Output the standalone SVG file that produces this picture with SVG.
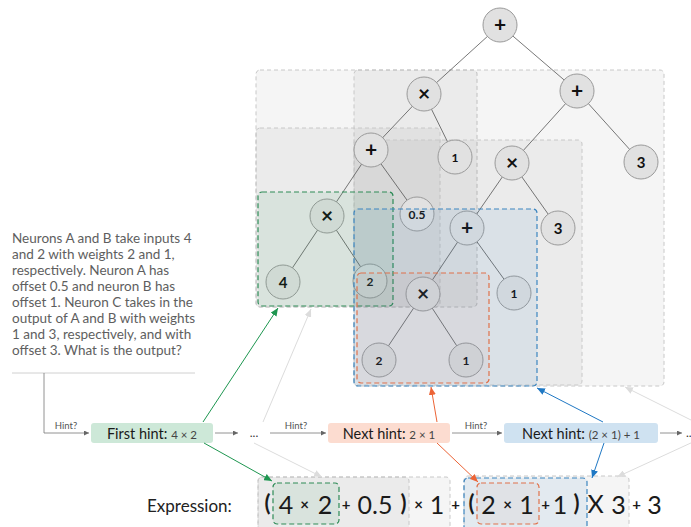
<svg xmlns="http://www.w3.org/2000/svg" width="691" height="527" viewBox="0 0 691 527">
<defs>
<style>
.g{fill:#000;fill-opacity:0.04;stroke:#c8c8c8;stroke-width:1;stroke-dasharray:4 3}
.gr{fill:#2e9a5c;fill-opacity:0.09;stroke:#2e8b57;stroke-width:1.2;stroke-dasharray:5 3}
.bl{fill:#3a86c8;fill-opacity:0.09;stroke:#3d86c0;stroke-width:1.2;stroke-dasharray:5 3}
.or{fill:#c06a50;fill-opacity:0.06;stroke:#e0714a;stroke-width:1.2;stroke-dasharray:5 3}
.e{stroke:#555;stroke-width:0.8;fill:none}
.n circle{fill:#e1e1e1;stroke:#9a9a9a;stroke-width:1}
.n text{font-family:Lato,"Open Sans",sans-serif;fill:#111;text-anchor:middle;font-weight:bold}
.op{font-size:21px}
.d{font-size:12px}
.D{font-size:15px}
.t{font-family:Lato,"Open Sans",sans-serif}
.hint{font-family:Lato,"Open Sans",sans-serif;font-size:9.5px;fill:#555;text-anchor:middle}
.ar{stroke:#777;stroke-width:0.8;fill:none}
.ex{font-family:Lato,"Open Sans",sans-serif;fill:#1a1a1a;text-anchor:middle;font-size:25px}
.ex2{font-family:Lato,"Open Sans",sans-serif;fill:#1a1a1a;text-anchor:middle;font-size:15px;font-weight:bold}
.par{font-family:Lato,"Open Sans",sans-serif;fill:#1a1a1a;text-anchor:middle;font-size:22px;font-weight:bold}
</style>
<marker id="ms" viewBox="0 0 5 5" refX="5" refY="2.5" markerWidth="5" markerHeight="5" markerUnits="userSpaceOnUse" orient="auto"><path d="M0,0 L5,2.5 L0,5 z" fill="#666"/></marker>
<marker id="mg" viewBox="0 0 8 7" refX="8" refY="3.5" markerWidth="8" markerHeight="7" markerUnits="userSpaceOnUse" orient="auto"><path d="M0,0 L8,3.5 L0,7 z" fill="#1e9650"/></marker>
<marker id="mo" viewBox="0 0 8 7" refX="8" refY="3.5" markerWidth="8" markerHeight="7" markerUnits="userSpaceOnUse" orient="auto"><path d="M0,0 L8,3.5 L0,7 z" fill="#ec6436"/></marker>
<marker id="mb" viewBox="0 0 8 7" refX="8" refY="3.5" markerWidth="8" markerHeight="7" markerUnits="userSpaceOnUse" orient="auto"><path d="M0,0 L8,3.5 L0,7 z" fill="#1f78c4"/></marker>
<marker id="ml" viewBox="0 0 8 7" refX="8" refY="3.5" markerWidth="8" markerHeight="7" markerUnits="userSpaceOnUse" orient="auto"><path d="M0,0 L8,3.5 L0,7 z" fill="#dcdcdc"/></marker>
</defs>

<g id="tree-regions">
<rect class="g" x="256" y="70" width="221" height="237" rx="4"/>
<rect class="g" x="354" y="70" width="310" height="316" rx="4"/>
<rect class="g" x="256" y="128" width="184" height="179" rx="4"/>
<rect class="g" x="354" y="140" width="228" height="245" rx="4"/>
</g>

<g id="tree-edges">
<line class="e" x1="500" y1="25" x2="424" y2="94"/>
<line class="e" x1="500" y1="25" x2="577" y2="91"/>
<line class="e" x1="424" y1="94" x2="371" y2="150"/>
<line class="e" x1="424" y1="94" x2="455" y2="157"/>
<line class="e" x1="577" y1="91" x2="512" y2="163"/>
<line class="e" x1="577" y1="91" x2="641" y2="162"/>
<line class="e" x1="371" y1="150" x2="327" y2="216"/>
<line class="e" x1="371" y1="150" x2="417" y2="214"/>
<line class="e" x1="512" y1="163" x2="467" y2="228"/>
<line class="e" x1="512" y1="163" x2="558" y2="228"/>
<line class="e" x1="327" y1="216" x2="283" y2="282"/>
<line class="e" x1="327" y1="216" x2="370" y2="281"/>
<line class="e" x1="467" y1="228" x2="423" y2="294"/>
<line class="e" x1="467" y1="228" x2="514" y2="293"/>
<line class="e" x1="423" y1="294" x2="379" y2="360"/>
<line class="e" x1="423" y1="294" x2="466" y2="360"/>
</g>

<g id="node-root" class="n"><circle cx="500" cy="25" r="17"/><text class="op" x="500" y="32">+</text></g>
<g id="node-mul1" class="n"><circle cx="424" cy="94" r="17"/><text class="op" x="424" y="101">×</text></g>
<g id="node-add2" class="n"><circle cx="577" cy="91" r="17"/><text class="op" x="577" y="98">+</text></g>
<g id="node-add3" class="n"><circle cx="371" cy="150" r="17"/><text class="op" x="371" y="157">+</text></g>
<g id="node-one1" class="n"><circle cx="455" cy="157" r="17"/><text class="d" x="455" y="161.5">1</text></g>
<g id="node-mul2" class="n"><circle cx="512" cy="163" r="17"/><text class="op" x="512" y="170">×</text></g>
<g id="node-three1" class="n"><circle cx="641" cy="162" r="17"/><text class="D" x="641" y="167.5">3</text></g>
<g id="node-mul3" class="n"><circle cx="327" cy="216" r="17"/><text class="op" x="327" y="223">×</text></g>
<g id="node-half" class="n"><circle cx="417" cy="214" r="17"/><text class="d" x="417" y="218.5">0.5</text></g>
<g id="node-add4" class="n"><circle cx="467" cy="228" r="17"/><text class="op" x="467" y="235">+</text></g>
<g id="node-three2" class="n"><circle cx="558" cy="228" r="17"/><text class="D" x="558" y="233.5">3</text></g>
<g id="node-four" class="n"><circle cx="283" cy="282" r="17"/><text class="D" x="283" y="287.5">4</text></g>
<g id="node-two1" class="n"><circle cx="370" cy="281" r="17"/><text class="d" x="370" y="285.5">2</text></g>
<g id="node-mul4" class="n"><circle cx="423" cy="294" r="17"/><text class="op" x="423" y="301">×</text></g>
<g id="node-one2" class="n"><circle cx="514" cy="293" r="17"/><text class="d" x="514" y="297.5">1</text></g>
<g id="node-two2" class="n"><circle cx="379" cy="360" r="17"/><text class="d" x="379" y="364.5">2</text></g>
<g id="node-one3" class="n"><circle cx="466" cy="360" r="17"/><text class="d" x="466" y="364.5">1</text></g>

<g id="highlight-regions">
<rect class="gr" x="258" y="192" width="135" height="114" rx="4"/>
<rect class="bl" x="354" y="209" width="183" height="177" rx="4"/>
<rect class="or" x="357" y="273" width="132" height="110" rx="4"/>
</g>

<g id="question" class="t" font-size="13.5" fill="#5e5e5e">
<text x="12" y="243">Neurons A and B take inputs 4</text>
<text x="12" y="259">and 2 with weights 2 and 1,</text>
<text x="12" y="275">respectively. Neuron A has</text>
<text x="12" y="291">offset 0.5 and neuron B has</text>
<text x="12" y="307">offset 1. Neuron C takes in the</text>
<text x="12" y="323">output of A and B with weights</text>
<text x="12" y="339">1 and 3, respectively, and with</text>
<text x="12" y="355">offset 3. What is the output?</text>
<line x1="12" y1="373" x2="195" y2="373" stroke="#d0d0d0" stroke-width="1"/>
</g>

<g id="hint-first">
<rect x="91" y="423" width="122" height="20" rx="3" fill="#cde8d8"/>
<text class="t" x="152" y="438.5" text-anchor="middle" font-size="14.5" fill="#1a1a1a">First hint: <tspan font-size="11.5" fill="#444">4 × 2</tspan></text>
</g>
<g id="hint-dots1"><text class="t" x="254" y="437" text-anchor="middle" font-size="12" fill="#333">...</text></g>
<g id="hint-next1">
<rect x="328" y="423" width="122" height="20" rx="3" fill="#fcdcd0"/>
<text class="t" x="389" y="438.5" text-anchor="middle" font-size="14.5" fill="#1a1a1a">Next hint: <tspan font-size="11.5" fill="#444">2 × 1</tspan></text>
</g>
<g id="hint-next2">
<rect x="504" y="423" width="154" height="20" rx="3" fill="#cfe2f1"/>
<text class="t" x="581" y="438.5" text-anchor="middle" font-size="14.5" fill="#1a1a1a">Next hint: <tspan font-size="11.5" fill="#444">(2 × 1) + 1</tspan></text>
</g>
<g id="hint-dots2"><text class="t" x="686" y="437" font-size="12" fill="#333">...</text></g>

<g id="expression">
<text class="t" x="147" y="512" font-size="17" fill="#222">Expression:</text>
<rect class="g" x="258" y="477" width="192" height="60" rx="4"/>
<rect class="g" x="258" y="477" width="151" height="60" rx="4"/>
<rect class="g" x="464" y="476" width="165" height="60" rx="4"/>
<rect class="gr" x="273" y="483" width="66" height="41" rx="4"/>
<rect class="bl" x="464" y="478" width="123" height="60" rx="4"/>
<rect class="or" x="477" y="483" width="62" height="41" rx="4"/>
<text class="par" x="267.5" y="511">(</text>
<text class="ex" x="286" y="514">4</text>
<text class="ex2" x="304.5" y="510">×</text>
<text class="ex" x="325" y="514">2</text>
<text class="ex2" x="346" y="510">+</text>
<text class="ex" x="375" y="514">0.5</text>
<text class="par" x="403.5" y="511">)</text>
<text class="ex2" x="418.5" y="510">×</text>
<text class="ex" x="437" y="514">1</text>
<text class="ex2" x="455.5" y="510">+</text>
<text class="par" x="471.5" y="511">(</text>
<text class="ex" x="488.5" y="514">2</text>
<text class="ex2" x="507.5" y="510">×</text>
<text class="ex" x="526.5" y="514">1</text>
<text class="ex2" x="545.5" y="510">+</text>
<text class="ex" x="560" y="514">1</text>
<text class="par" x="576.5" y="511">)</text>
<text class="ex" x="595.5" y="513" font-size="21">X</text>
<text class="ex" x="618.5" y="514">3</text>
<text class="ex2" x="636.5" y="510">+</text>
<text class="ex" x="654.5" y="514">3</text>
</g>

<g id="connectors">
<polyline class="ar" points="44,373 44,433 89,433" marker-end="url(#ms)"/>
<text class="hint" x="66" y="429">Hint?</text>
<line class="ar" x1="215" y1="433" x2="238" y2="433" marker-end="url(#ms)"/>
<line class="ar" x1="270" y1="433" x2="326" y2="433" marker-end="url(#ms)"/>
<text class="hint" x="296" y="429">Hint?</text>
<line class="ar" x1="452" y1="433" x2="502" y2="433" marker-end="url(#ms)"/>
<text class="hint" x="476" y="429">Hint?</text>
<line class="ar" x1="660" y1="433" x2="682" y2="433" marker-end="url(#ms)"/>

<line x1="203" y1="422" x2="278" y2="308" stroke="#1e9650" stroke-width="1" marker-end="url(#mg)"/>
<line x1="204" y1="443" x2="272" y2="481" stroke="#1e9650" stroke-width="1" marker-end="url(#mg)"/>
<line x1="263" y1="422" x2="311" y2="309" stroke="#dcdcdc" stroke-width="1" marker-end="url(#ml)"/>
<line x1="254" y1="443" x2="322" y2="477" stroke="#dcdcdc" stroke-width="1" marker-end="url(#ml)"/>
<line x1="437" y1="422" x2="431" y2="387" stroke="#ec6436" stroke-width="1" marker-end="url(#mo)"/>
<line x1="437" y1="443" x2="478" y2="482" stroke="#ec6436" stroke-width="1" marker-end="url(#mo)"/>
<line x1="603" y1="422" x2="537" y2="388" stroke="#1f78c4" stroke-width="1" marker-end="url(#mb)"/>
<line x1="604" y1="443" x2="592" y2="478" stroke="#1f78c4" stroke-width="1" marker-end="url(#mb)"/>
<line x1="693" y1="421" x2="625" y2="387" stroke="#dcdcdc" stroke-width="1" marker-end="url(#ml)"/>
<line x1="693" y1="442" x2="617" y2="477" stroke="#dcdcdc" stroke-width="1" marker-end="url(#ml)"/>
</g>
</svg>
